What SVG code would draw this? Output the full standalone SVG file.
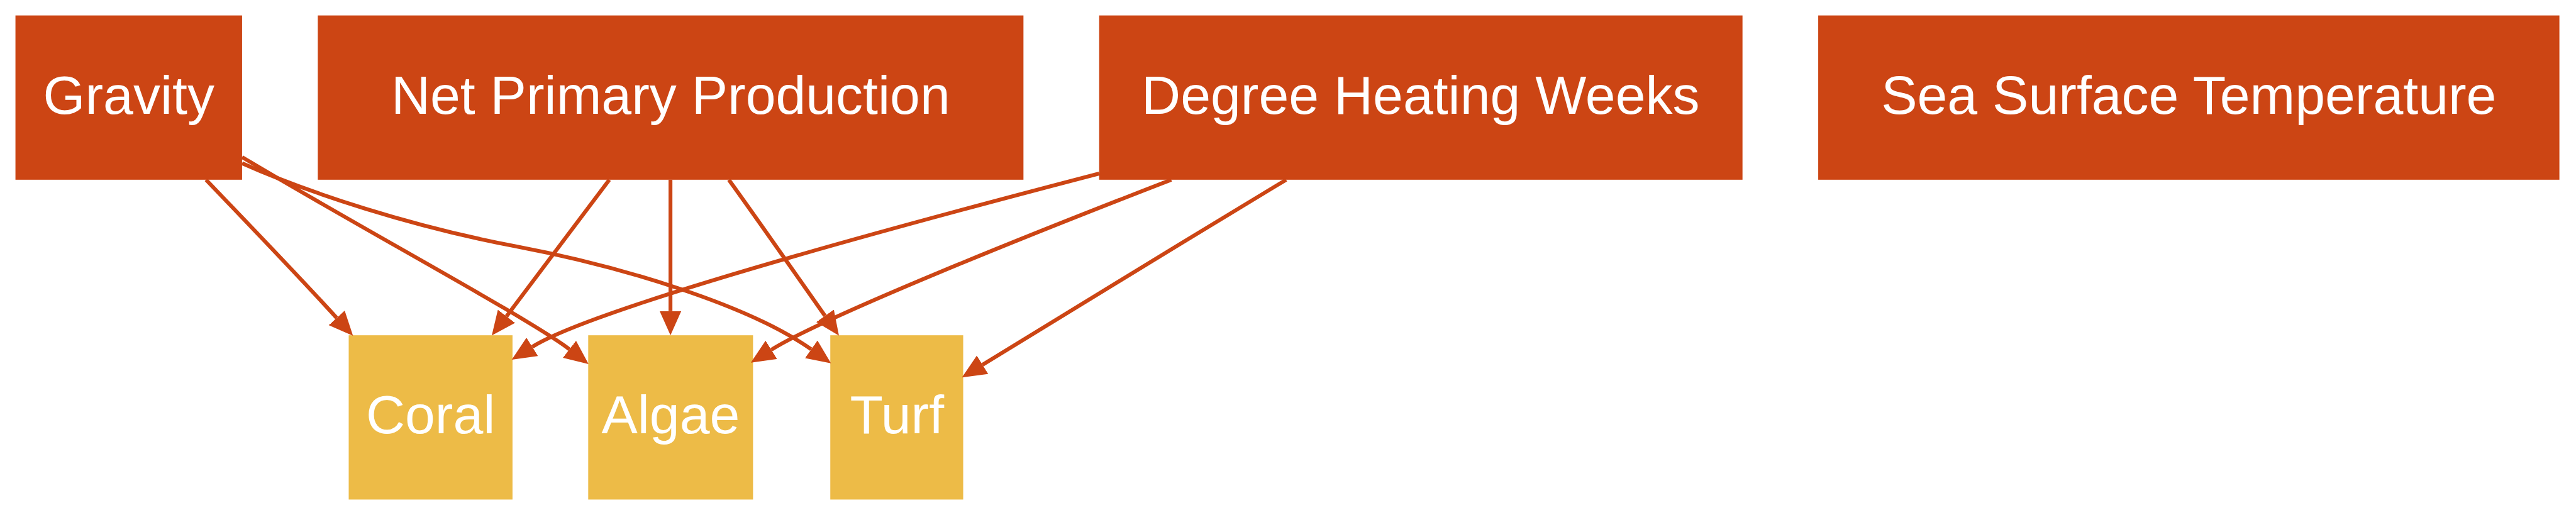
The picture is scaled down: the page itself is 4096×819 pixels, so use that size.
<svg xmlns="http://www.w3.org/2000/svg" width="4096" height="819" viewBox="0 0 4096 819">
<style>
.top{fill:#CC4514}
.bot{fill:#EDBB47}
.lbl{font-family:"Liberation Sans",Arial,sans-serif;font-size:105px;fill:#FFFFFF;text-anchor:middle}
.edge{fill:none;stroke:#CC4514;stroke-width:7.5}
</style>
<defs>
<marker id="arr" viewBox="0 -21 47 42" refX="0" refY="0" markerWidth="47" markerHeight="42" markerUnits="userSpaceOnUse" orient="auto">
<path d="M0,-21 L47,0 L0,21 z" fill="#CC4514"/>
</marker>
</defs>
<rect width="4096" height="819" fill="#FFFFFF"/>
<g transform="scale(0.819)">
<g id="node-gravity"><rect class="top" x="30" y="30" width="440" height="319"/><text class="lbl" x="250" y="221">Gravity</text></g>
<g id="node-npp"><rect class="top" x="617" y="30" width="1370" height="319"/><text class="lbl" x="1302" y="221">Net Primary Production</text></g>
<g id="node-dhw"><rect class="top" x="2134" y="30" width="1249" height="319"/><text class="lbl" x="2758" y="221">Degree Heating Weeks</text></g>
<g id="node-sst"><rect class="top" x="3530" y="30" width="1439" height="319"/><text class="lbl" x="4249.5" y="221">Sea Surface Temperature</text></g>
<g id="node-coral"><rect class="bot" x="677" y="651" width="318" height="319"/><text class="lbl" x="836" y="841">Coral</text></g>
<g id="node-algae"><rect class="bot" x="1142" y="651" width="320" height="319"/><text class="lbl" x="1302" y="841">Algae</text></g>
<g id="node-turf"><rect class="bot" x="1612" y="651" width="258" height="319"/><text class="lbl" x="1741.5" y="841">Turf</text></g>
<g id="edges">
<path class="edge" marker-end="url(#arr)" d="M400,349 C485,438 575,531 653.7,617.3"/>
<path class="edge" marker-end="url(#arr)" d="M470,305 C700,443 1030,620 1105.5,678.2"/>
<path class="edge" marker-end="url(#arr)" d="M470,317 C600,375 800,440 1000,478 C1200,516 1450,590 1575,678.3"/>
<path class="edge" marker-end="url(#arr)" d="M1183,349 C1120,432 1040,540 983.3,614.2"/>
<path class="edge" marker-end="url(#arr)" d="M1301.7,349 L1301.7,604"/>
<path class="edge" marker-end="url(#arr)" d="M1415,349 C1475,432 1550,540 1601.7,613.3"/>
<path class="edge" marker-end="url(#arr)" d="M2134,337 C1700,450 1150,600 1033.3,673.5"/>
<path class="edge" marker-end="url(#arr)" d="M2274,349 C2000,455 1600,615 1497.5,679.2"/>
<path class="edge" marker-end="url(#arr)" d="M2497,349 C2300,468 2050,620 1907.5,708.3"/>
</g>
</g>
</svg>
